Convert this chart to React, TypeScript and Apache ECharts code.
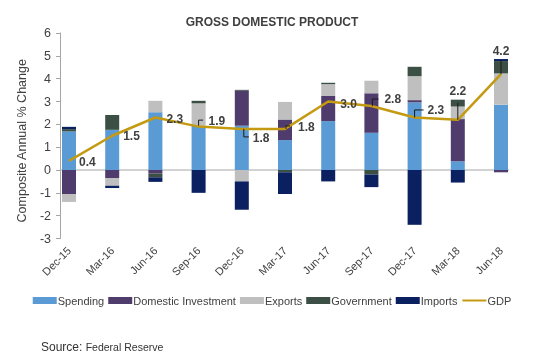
import { useEffect, useRef } from 'react';
import * as echarts from 'echarts';

const categories = ['Dec-15', 'Mar-16', 'Jun-16', 'Sep-16', 'Dec-16', 'Mar-17', 'Jun-17', 'Sep-17', 'Dec-17', 'Mar-18', 'Jun-18'];
const spending = [1.69, 1.76, 2.53, 1.94, 1.94, 1.31, 2.14, 1.63, 2.96, 0.38, 2.86];
const domesticInvestment = [-1.05, -0.35, -0.16, 0, 1.53, 0.9, 1.1, 1.73, 0.1, 1.85, -0.1];
const exportsData = [-0.35, -0.34, 0.5, 0.98, -0.5, 0.77, 0.52, 0.55, 1.05, 0.55, 1.37];
const government = [0.1, 0.65, -0.16, 0.11, 0.04, -0.1, 0.06, -0.2, 0.41, 0.3, 0.54];
const imports = [0.1, -0.1, -0.2, -1.0, -1.24, -0.95, -0.5, -0.55, -2.4, -0.55, 0.09];
const gdp = [0.4, 1.5, 2.3, 1.9, 1.8, 1.8, 3.0, 2.8, 2.3, 2.2, 4.2];
const yTicks = { min: -3, max: 6, interval: 1 };

const title = 'GROSS DOMESTIC PRODUCT';
const yName = 'Composite Annual % Change';
const sourceLabel = 'Source:';
const sourceName = 'Federal Reserve';

// label placement (pixel offsets from each GDP point)
type Place = { dx: number; dy: number; align?: string; leader?: number[][] };
const labelPlacement: Place[] = [
  { dx: 10, dy: 1 },
  { dx: 11, dy: 0 },
  { dx: 11, dy: 1.5 },
  { dx: 10, dy: -6, leader: [[0, -1], [0, -6.5], [4.5, -6.5]] },
  { dx: 11, dy: 9, leader: [[2, 0], [2, 8], [7, 8]] },
  { dx: 13, dy: -2, leader: [[1, 0], [1, -3], [5, -3]] },
  { dx: 12, dy: 2 },
  { dx: 13, dy: -7, leader: [[1, 0], [1, -7], [7, -7]] },
  { dx: 13, dy: -7.5, leader: [[0, 0], [0, -7.5], [9, -7.5]] },
  { dx: 0, dy: -29, align: 'center', leader: [[0, 0], [0, -17]] },
  { dx: 0, dy: -23.5, align: 'center', leader: [[0, 0], [0, -14]] },
];

const FONT = 'Liberation Sans, Arial, sans-serif';
const TEXT = '#404040';
const AXIS = '#a6a6a6';

export default function App() {
  const ref = useRef<HTMLDivElement>(null);
  useEffect(() => {
    const chart = echarts.init(ref.current!, null, { renderer: 'svg' });
    const barDefs = [
      { name: 'Spending', data: spending, color: '#5B9BD5' },
      { name: 'Domestic Investment', data: domesticInvestment, color: '#4F3B6C' },
      { name: 'Exports', data: exportsData, color: '#BFBFBF' },
      { name: 'Government', data: government, color: '#3B4F44' },
      { name: 'Imports', data: imports, color: '#0B2060' },
    ];
    const bars = barDefs.map((b) => ({
      name: b.name,
      type: 'bar',
      stack: 'total',
      data: b.data,
      barWidth: 14,
      itemStyle: { color: b.color },
      clip: false,
    }));
    chart.setOption({
      animation: false,
      textStyle: { fontFamily: FONT },
      title: {
        text: title,
        left: 'center',
        top: 11,
        textStyle: { fontFamily: FONT, fontSize: 12, fontWeight: 'bold', color: TEXT },
      },
      legend: {
        data: [
          { name: 'Spending', icon: 'rect' },
          { name: 'Domestic Investment', icon: 'rect' },
          { name: 'Exports', icon: 'rect' },
          { name: 'Government', icon: 'rect' },
          { name: 'Imports', icon: 'rect' },
          { name: 'GDP', itemStyle: { opacity: 0 } },
        ],
        left: 'center',
        top: 290,
        itemWidth: 24,
        itemHeight: 7,
        itemGap: 4,
        textStyle: { fontFamily: FONT, fontSize: 11, color: TEXT, padding: [0, 0, 0, -4] },
      },
      grid: {
        left: 47.4,
        width: 475.2,
        top: 33,
        height: 205.5,
        containLabel: false,
        outerBoundsMode: 'none',
      },
      xAxis: {
        type: 'category',
        data: categories,
        boundaryGap: true,
        axisLine: { show: false },
        axisTick: { show: false },
        axisLabel: {
          rotate: 45,
          interval: 0,
          fontSize: 11,
          color: TEXT,
          fontFamily: FONT,
          margin: 10,
        },
      },
      yAxis: {
        type: 'value',
        min: yTicks.min,
        max: yTicks.max,
        interval: yTicks.interval,
        offset: -12.6,
        name: yName,
        nameLocation: 'middle',
        nameGap: 30,
        nameTextStyle: { fontFamily: FONT, fontSize: 12.5, color: TEXT, padding: [0, 10, 0, 0] },
        axisLine: { show: true, lineStyle: { color: AXIS, width: 1 } },
        axisTick: { show: true, length: 4, lineStyle: { color: AXIS } },
        splitLine: { show: false },
        axisLabel: { fontSize: 12.5, color: TEXT, fontFamily: FONT, margin: 9 },
      },
      series: [
        ...bars,
        {
          name: 'GDP',
          type: 'line',
          data: gdp,
          symbol: 'none',
          lineStyle: { color: '#C49A12', width: 2.5 },
          itemStyle: { color: '#C49A12' },
          z: 5,
        },
        {
          name: 'GDP labels',
          type: 'custom',
          data: gdp.map((v, i) => [i, v]),
          encode: { x: 0, y: 1 },
          z: 6,
          silent: true,
          renderItem: (_params: any, api: any) => {
            const i = api.value(0);
            const v = api.value(1);
            const p = api.coord([i, v]);
            const pl = labelPlacement[i] || { dx: 10, dy: 0 };
            const children: any[] = [];
            if (pl.leader) {
              children.push({
                type: 'polyline',
                shape: { points: pl.leader.map((q) => [p[0] + q[0], p[1] + q[1]]) },
                style: { stroke: '#1a1a1a', lineWidth: 1, fill: null },
              });
            }
            children.push({
              type: 'text',
              style: {
                text: v.toFixed(1),
                x: p[0] + pl.dx,
                y: p[1] + pl.dy,
                textAlign: pl.align || 'left',
                textVerticalAlign: 'middle',
                font: `bold 12px ${FONT}`,
                fill: TEXT,
              },
            });
            return { type: 'group', children };
          },
        },
      ],
    });
    const y0 = chart.convertToPixel({ yAxisIndex: 0 }, 0) as number;
    const xFirst = chart.convertToPixel({ xAxisIndex: 0 }, 0) as number;
    const xLast = chart.convertToPixel({ xAxisIndex: 0 }, categories.length - 1) as number;
    chart.setOption({
      graphic: [
        {
          type: 'line',
          z: 0,
          shape: { x1: xFirst - 9, y1: y0, x2: xLast + 8, y2: y0 },
          style: { stroke: AXIS, lineWidth: 1 },
          silent: true,
        },
        {
          type: 'text',
          left: 41,
          top: 341,
          style: {
            text: `{a|${sourceLabel}} {b|${sourceName}}`,
            rich: {
              a: { fontSize: 12, fontFamily: FONT, fill: '#333333' } as any,
              b: { fontSize: 10.5, fontFamily: FONT, fill: '#333333' } as any,
            },
          } as any,
        },
      ],
    });
    return () => chart.dispose();
  }, []);
  return <div ref={ref} style={{ position: 'fixed', left: 0, top: 0, width: 544, height: 358 }} />;
}
